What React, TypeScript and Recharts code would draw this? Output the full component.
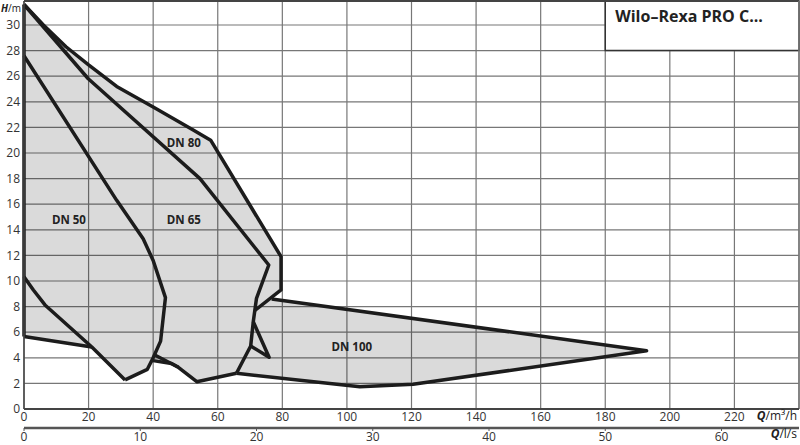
import React from 'react';
import {
  ComposedChart,
  Line,
  Area,
  Scatter,
  XAxis,
  YAxis,
  CartesianGrid,
  ReferenceLine,
  ReferenceArea,
} from 'recharts';

// Axis ticks
const flowTicks = [0, 20, 40, 60, 80, 100, 120, 140, 160, 180, 200, 220, 240];
const flowLsTicks = [0, 10, 20, 30, 40, 50, 60];
const headTicks = [0, 2, 4, 6, 8, 10, 12, 14, 16, 18, 20, 22, 24, 26, 28, 30];
const flowMax = 240;
const flowMaxLs = 240 / 3.6;
const headMax = 31.875;

// Outer envelope of all operating ranges (Q m³/h, H m)
const envelope = [
  { x: 0, y: 31.6 }, { x: 6, y: 30.0 }, { x: 13, y: 28.3 }, { x: 19.9, y: 26.9 },
  { x: 28.7, y: 25.2 }, { x: 40, y: 23.6 }, { x: 52.4, y: 21.8 }, { x: 57.8, y: 21.0 },
  { x: 79.6, y: 11.9 }, { x: 79.6, y: 9.3 }, { x: 76.7, y: 8.6 }, { x: 192.8, y: 4.55 },
  { x: 120.5, y: 1.93 }, { x: 104, y: 1.74 }, { x: 65.8, y: 2.79 }, { x: 53.5, y: 2.13 },
  { x: 47.8, y: 3.26 }, { x: 45.7, y: 3.55 }, { x: 39.5, y: 3.8 }, { x: 38.2, y: 3.1 },
  { x: 31.3, y: 2.27 }, { x: 21, y: 4.84 }, { x: 0, y: 5.67 }, { x: 0, y: 31.6 },
];

// Outline curves
const leftEdge = [{ x: 0, y: 5.67 }, { x: 0, y: 31.6 }];
const dn80Max = [
  { x: 0, y: 31.6 }, { x: 6, y: 30.0 }, { x: 13, y: 28.3 }, { x: 19.9, y: 26.9 },
  { x: 28.7, y: 25.2 }, { x: 40, y: 23.6 }, { x: 52.4, y: 21.8 }, { x: 57.8, y: 21.0 },
  { x: 79.6, y: 11.9 }, { x: 79.6, y: 9.3 }, { x: 71.5, y: 7.7 },
];
const dn65Max = [
  { x: 0, y: 31.6 }, { x: 19.9, y: 25.8 }, { x: 54.5, y: 18.0 }, { x: 75.8, y: 11.25 },
  { x: 72, y: 8.65 }, { x: 71.5, y: 7.73 }, { x: 71, y: 6.82 }, { x: 70.2, y: 4.92 },
  { x: 65.8, y: 2.79 },
];
const dn65Loop = [{ x: 71, y: 6.82 }, { x: 75.9, y: 4.04 }, { x: 70.2, y: 4.92 }];
const dn50Max = [
  { x: 0, y: 27.6 }, { x: 28.7, y: 16.3 }, { x: 36.9, y: 13.3 }, { x: 40, y: 11.6 },
  { x: 43.8, y: 8.7 }, { x: 42.3, y: 5.3 }, { x: 40, y: 4.0 }, { x: 38.2, y: 3.1 },
  { x: 31.3, y: 2.27 },
];
const dn50Min = [
  { x: 0, y: 10.33 }, { x: 2.9, y: 9.3 }, { x: 6.5, y: 8.13 }, { x: 21, y: 4.84 },
  { x: 31.3, y: 2.27 },
];
const dn50Base = [{ x: 0, y: 5.67 }, { x: 21, y: 4.84 }];
const dn65Min = [
  { x: 40.5, y: 4.22 }, { x: 47.8, y: 3.26 }, { x: 53.5, y: 2.13 }, { x: 65.8, y: 2.79 },
];
const dn65MinLower = [{ x: 39.5, y: 3.8 }, { x: 45.7, y: 3.55 }, { x: 47.8, y: 3.26 }];
const dn100 = [
  { x: 65.8, y: 2.79 }, { x: 104, y: 1.74 }, { x: 120.5, y: 1.93 }, { x: 192.8, y: 4.55 },
  { x: 76.7, y: 8.6 },
];

const outlines = [leftEdge, dn80Max, dn65Max, dn65Loop, dn50Max, dn50Min, dn50Base, dn65Min, dn65MinLower, dn100];

// Invisible span that gives the l/s axis its range
const lsSpan = [{ x: 0, y: 0 }, { x: flowMaxLs, y: 0 }];

const dnLabels = [
  { x: 49.5, y: 20.8, name: 'DN 80' },
  { x: 13.9, y: 14.8, name: 'DN 50' },
  { x: 49.5, y: 14.8, name: 'DN 65' },
  { x: 101.5, y: 4.85, name: 'DN 100' },
];

const FONT = '"Open Sans", "Noto Sans", sans-serif';
const tickStyle = { fill: '#333', fontSize: 12, fontFamily: FONT };

const renderDnLabel = (props: any) => (
  <text
    x={props.cx}
    y={props.cy}
    textAnchor="middle"
    dominantBaseline="central"
    fontFamily={FONT}
    fontSize={11.5}
    fontWeight={700}
    fill="#222"
  >
    {props.payload.name}
  </text>
);

const unitLabel = (unit: string, dy: number) => (props: any) => {
  const vb = props.viewBox || { x: 0, y: 0, width: 0, height: 0 };
  return (
    <text x={vb.x + vb.width - 2} y={vb.y + dy} textAnchor="end" fontFamily={FONT} fontSize={12} fill="#222">
      <tspan fontWeight={700} fontStyle="italic">Q</tspan>
      <tspan>{unit}</tspan>
    </text>
  );
};

const headLabel = (props: any) => {
  const vb = props.viewBox || { x: 0, y: 0 };
  return (
    <text x={vb.x + 1} y={vb.y + 11} textAnchor="start" fontFamily={FONT} fontSize={10} fill="#222">
      <tspan fontWeight={700} fontStyle="italic">H</tspan>
      <tspan>/m</tspan>
    </text>
  );
};

export default function App() {
  return (
    <div style={{ position: 'absolute', left: 0, top: 0, width: 800, height: 445, background: '#fff' }}>
      <ComposedChart width={800} height={445} margin={{ top: 1, right: 1, bottom: 0, left: 0 }}>
        <CartesianGrid xAxisId={0} stroke="#777" strokeWidth={1.2} />
        <XAxis
          xAxisId={0}
          type="number"
          dataKey="x"
          domain={[0, flowMax]}
          ticks={flowTicks}
          interval={0}
          tickFormatter={(v: number) => (v === flowMax ? '' : String(v))}
          height={19}
          tickSize={0}
          tickMargin={3}
          tick={tickStyle}
          axisLine={{ stroke: '#444', strokeWidth: 2 }}
          label={{ content: unitLabel('/m³/h', 11) }}
        />
        <XAxis
          xAxisId={1}
          type="number"
          dataKey="x"
          domain={[0, flowMaxLs]}
          ticks={flowLsTicks}
          interval={0}
          allowDataOverflow
          height={17}
          tickSize={3}
          tickMargin={1}
          tick={tickStyle}
          tickLine={{ stroke: '#555' }}
          axisLine={{ stroke: '#555', strokeWidth: 2.5 }}
          label={{ content: unitLabel('/l/s', 10) }}
        />
        <YAxis
          type="number"
          domain={[0, headMax]}
          ticks={headTicks}
          interval={0}
          width={24}
          tickSize={0}
          tickMargin={4}
          tick={tickStyle}
          axisLine={{ stroke: '#444', strokeWidth: 1.5 }}
          label={{ content: headLabel }}
        />
        <ReferenceLine xAxisId={0} y={headMax} stroke="#444" strokeWidth={2} />
        <ReferenceLine xAxisId={0} x={flowMax} stroke="#777" strokeWidth={1.5} />
        <Line
          xAxisId={1}
          data={lsSpan}
          dataKey="y"
          stroke="none"
          dot={false}
          activeDot={false}
          isAnimationActive={false}
        />
        <Area
          xAxisId={0}
          data={envelope}
          dataKey="y"
          type="linear"
          baseValue={31.6}
          stroke="none"
          fill="#000"
          fillOpacity={0.145}
          isAnimationActive={false}
          dot={false}
          activeDot={false}
        />
        {outlines.map((pts, i) => (
          <Line
            key={i}
            xAxisId={0}
            data={pts}
            dataKey="y"
            type="linear"
            stroke="#1c1c1c"
            strokeWidth={3.5}
            strokeLinejoin="round"
            dot={false}
            activeDot={false}
            isAnimationActive={false}
          />
        ))}
        <Scatter xAxisId={0} data={dnLabels} dataKey="y" shape={renderDnLabel} isAnimationActive={false} />
        <ReferenceArea
          xAxisId={0}
          x1={180}
          x2={flowMax}
          y1={28}
          y2={headMax}
          fill="#fff"
          fillOpacity={1}
          stroke="#333"
          strokeWidth={1.5}
          label={{
            value: 'Wilo–Rexa PRO C...',
            position: 'insideTopLeft',
            offset: 10,
            fill: '#222',
            fontSize: 16,
            fontWeight: 700,
            fontFamily: FONT,
          }}
        />
      </ComposedChart>
    </div>
  );
}
